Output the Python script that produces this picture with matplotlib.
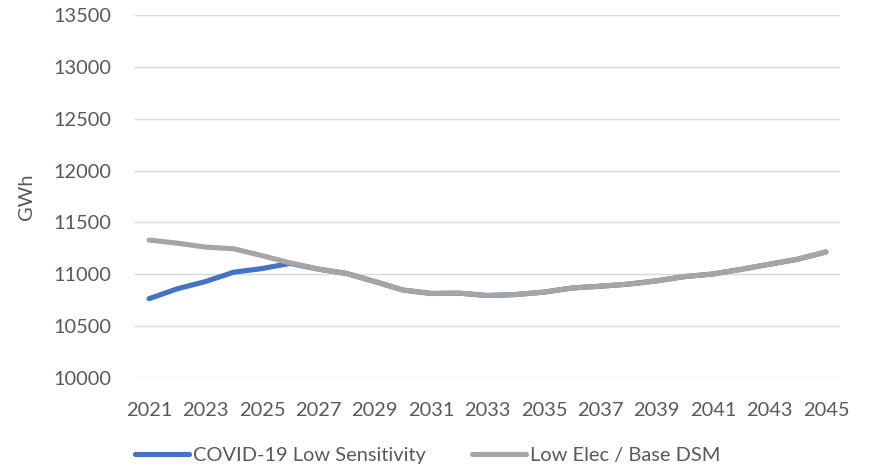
import matplotlib
matplotlib.use("Agg")
import matplotlib.pyplot as plt

plt.rcParams['font.family'] = ['Lato', 'DejaVu Sans']

years = list(range(2021, 2046))
covid_low = [10765, 10860, 10930, 11020, 11055, 11105,
             11050, 11008, 10930, 10848, 10815, 10818, 10795, 10805, 10828,
             10868, 10885, 10905, 10937, 10978, 11003, 11048, 11097, 11145, 11215]
low_elec = [11330, 11300, 11262, 11246, 11180, 11110,
            11050, 11008, 10930, 10848, 10815, 10818, 10795, 10805, 10828,
            10868, 10885, 10905, 10937, 10978, 11003, 11048, 11097, 11145, 11215]
y_ticks = [10000, 10500, 11000, 11500, 12000, 12500, 13000, 13500]

text_color = '#595959'
fig = plt.figure(figsize=(8.79, 4.76), dpi=100)
ax = fig.add_axes([135 / 879, 98 / 476, 705 / 879, 363 / 476])

x = list(range(len(years)))
ax.plot(x, covid_low, color='#4472C4', lw=3.7, solid_capstyle='round',
        label='COVID-19 Low Sensitivity', zorder=3)
ax.plot(x, low_elec, color='#A5A5A5', lw=3.7, solid_capstyle='round',
        label='Low Elec / Base DSM', zorder=4)

ax.set_xlim(-0.5, len(years) - 0.5)
ax.set_ylim(10000, 13500)
ax.set_yticks(y_ticks)
ax.set_yticklabels([str(v) for v in y_ticks])
ax.set_xticks(x[::2])
ax.set_xticklabels([str(y) for y in years[::2]])
ax.grid(axis='y', color='#D9D9D9', lw=1.0)
ax.set_axisbelow(True)
for s in ax.spines.values():
    s.set_visible(False)
ax.tick_params(axis='both', length=0, labelsize=14.4, colors=text_color)
ax.tick_params(axis='y', pad=17)
ax.tick_params(axis='x', pad=17)
ax.set_ylabel('GWh', fontsize=14.4, color=text_color, labelpad=13)

fig.legend(loc='center', bbox_to_anchor=(428 / 879, 1 - 455 / 476), ncol=2,
           frameon=False, fontsize=14.4, handlelength=2.7, handletextpad=0.2,
           columnspacing=2.3, labelcolor=text_color)

fig.savefig('out.png', dpi=100)
